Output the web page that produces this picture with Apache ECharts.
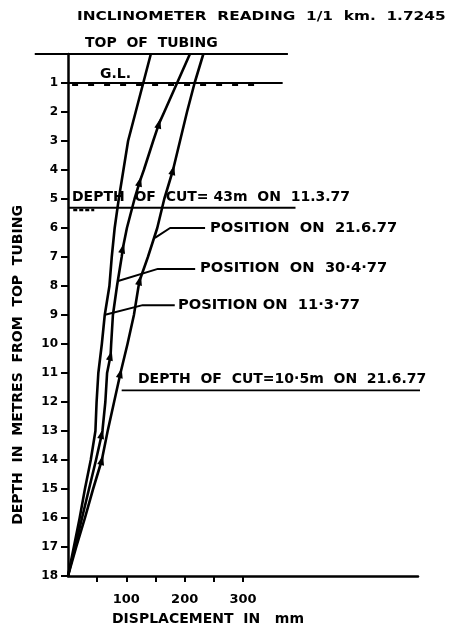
<!DOCTYPE html>
<html><head><meta charset="utf-8">
<script src="https://cdn.jsdelivr.net/npm/echarts@6/dist/echarts.min.js"></script>
<style>html,body{margin:0;padding:0;background:#fff}#c{width:454px;height:626px}</style>
</head><body><div id="c"></div>
<script>
// ---- data ----
const yTickValues = [1,2,3,4,5,6,7,8,9,10,11,12,13,14,15,16,17,18];
const xTickValues = [50,100,150,200,250,300];
const xLabelValues = [100,200,300];

// Position on 11.3.77 (left curve)
const depth_11_3 = [0,1,2,3,4,5,6,7,8,9,10,11,12,13,14,15,16,17,18];
const disp_11_3  = [142,129,116,103,95,87,80,75,71,63,58,52,49,47,39,29,20,10,0];

// Position on 30.4.77 (middle curve)
const depth_30_4 = [0,1,2,2.4,3,4,4.4,5,6,6.7,7,8,9,10,10.4,11,12,13,13.1,14,15,16,17,18];
const disp_30_4  = [209,187,165,156,146,130,123,114,101,94,92,84,77,74,73,67,64,59,58,48,36,24,12,0];
const markers_30_4 = [2.4,4.4,6.7,10.4,13.1];

// Position on 21.6.77 (right curve)
const depth_21_6 = [0,1,2,3,4,5,6,7,7.8,8,9,10,11,12,13,14,15,16,17,18];
const disp_21_6  = [232,217,204,192,180,165,153,137,123,121,113,102,90,79,68,58,43,29,14,0];
const markers_21_6 = [4,7.8,11,14];

// reference lines (displacement mm, depth m)
const topTubing_x = [-57, 377], topTubing_d = [0, 0];
const groundLevel_x = [0, 368], groundLevel_d = [1, 1];
const groundHatch_x = [7, 330], groundHatch_d = [1.07, 1.07];
const cut1_x = [0, 390], cut1_d = [5.3, 5.3];
const cut1Hatch_x = [9, 45], cut1Hatch_d = [5.38, 5.38];
const cut2_x = [92, 606], cut2_d = [11.6, 11.6];
const leader21_x = [149, 175, 235], leader21_d = [6.34, 6.0, 6.0];
const leader30_x = [86, 154, 218], leader30_d = [7.83, 7.41, 7.41];
const leader11_x = [62, 128, 183], leader11_d = [9.0, 8.66, 8.66];

// ---- build ----
const FONT = '"DejaVu Sans", sans-serif';
function pairs(xs, ds, marks) {
  return xs.map((x, i) => {
    const it = { value: [x, ds[i]] };
    if (marks && marks.indexOf(ds[i]) >= 0) {
      it.symbol = 'triangle'; it.symbolSize = [7, 10]; it.symbolRotate = -14;
    }
    return it;
  });
}
function curve(name, xs, ds, marks) {
  return { name, type: 'line', data: pairs(xs, ds, marks), showSymbol: true, symbol: 'none',
    lineStyle: { color: '#000', width: 2.6, join: 'round' }, itemStyle: { color: '#000' },
    clip: false, silent: true, z: 3, animation: false };
}
function ref(xs, ds, w, type) {
  return { type: 'line', data: pairs(xs, ds), symbol: 'none',
    lineStyle: { color: '#000', width: w || 2, type: type || 'solid' }, clip: false, silent: true, z: 2, animation: false };
}
function txt(s, x, y, size, opts) {
  return Object.assign({ type: 'text', x, y, style: { text: s, fill: '#000',
    font: 'bold ' + size + 'px ' + FONT, textAlign: 'left', textVerticalAlign: 'middle' }, z: 10 }, opts || {});
}

const chart = echarts.init(document.getElementById('c'), null, { renderer: 'canvas' });
const option = {
  backgroundColor: '#fff',
  animation: false,
  grid: { left: 68, right: 36, top: 54, bottom: 50, containLabel: false },
  xAxis: {
    type: 'value', min: 0, max: 600, interval: 50, position: 'bottom',
    axisLine: { show: true, onZero: false, lineStyle: { color: '#000', width: 2.5 } },
    axisTick: { show: true, length: 6, lineStyle: { color: '#000', width: 2 }, customValues: xTickValues },
    axisLabel: { show: true, color: '#000', fontFamily: FONT, fontWeight: 'bold', fontSize: 13, margin: 17,
      customValues: xLabelValues },
    splitLine: { show: false }
  },
  yAxis: {
    type: 'value', inverse: true, min: 0, max: 18, interval: 1,
    axisLine: { show: true, onZero: false, lineStyle: { color: '#000', width: 2.5 } },
    axisTick: { show: true, length: 7, lineStyle: { color: '#000', width: 2 }, customValues: yTickValues },
    axisLabel: { show: true, color: '#000', fontFamily: FONT, fontWeight: 'bold', fontSize: 12, margin: 10,
      customValues: yTickValues },
    splitLine: { show: false }
  },
  series: [
    ref(groundLevel_x, groundLevel_d, 2.2),
    ref(groundHatch_x, groundHatch_d, 2, [6, 10]),
    ref(cut1_x, cut1_d, 2),
    ref(cut1Hatch_x, cut1Hatch_d, 2.5, [4, 2]),
    ref(cut2_x, cut2_d, 1.8),
    ref(leader21_x, leader21_d, 2),
    ref(leader30_x, leader30_d, 2),
    ref(leader11_x, leader11_d, 2),
    curve('Position on 11.3.77', disp_11_3, depth_11_3),
    curve('Position on 30.4.77', disp_30_4, depth_30_4, markers_30_4),
    curve('Position on 21.6.77', disp_21_6, depth_21_6, markers_21_6)
  ],
  graphic: [
    txt('INCLINOMETER  READING  1/1  km.  1.7245', 77, 17, 13, { scaleX: 1.18 }),
    txt('TOP  OF  TUBING', 85, 43, 14),
    txt('G.L.', 100, 74, 14),
    txt('DEPTH  OF  CUT= 43m  ON  11.3.77', 72, 197, 14),
    txt('POSITION  ON  21.6.77', 210, 228, 14, { scaleX: 1.05 }),
    txt('POSITION  ON  30·4·77', 200, 268, 14, { scaleX: 1.05 }),
    txt('POSITION ON  11·3·77', 178, 305, 14, { scaleX: 1.05 }),
    txt('DEPTH  OF  CUT=10·5m  ON  21.6.77', 138, 379, 14),
    { type: 'text', x: 18, y: 365, rotation: Math.PI / 2,
      style: { text: 'DEPTH  IN  METRES  FROM  TOP  TUBING', fill: '#000', font: 'bold 14px ' + FONT,
        textAlign: 'center', textVerticalAlign: 'middle' }, z: 10 },
    { type: 'text', x: 208, y: 619,
      style: { text: 'DISPLACEMENT  IN   mm', fill: '#000', font: 'bold 14px ' + FONT,
        textAlign: 'center', textVerticalAlign: 'middle' }, z: 10 }
  ]
};
chart.setOption(option);
// top-of-tubing line extends left of the axis: place it through the grid's own scales
const p0 = chart.convertToPixel({ gridIndex: 0 }, [topTubing_x[0], topTubing_d[0]]);
const p1 = chart.convertToPixel({ gridIndex: 0 }, [topTubing_x[1], topTubing_d[1]]);
option.graphic.push({ type: 'line', shape: { x1: p0[0], y1: p0[1], x2: p1[0], y2: p1[1] },
  style: { stroke: '#000', lineWidth: 2.2 }, z: 5 });
chart.setOption({ graphic: option.graphic });
</script>
</body></html>
